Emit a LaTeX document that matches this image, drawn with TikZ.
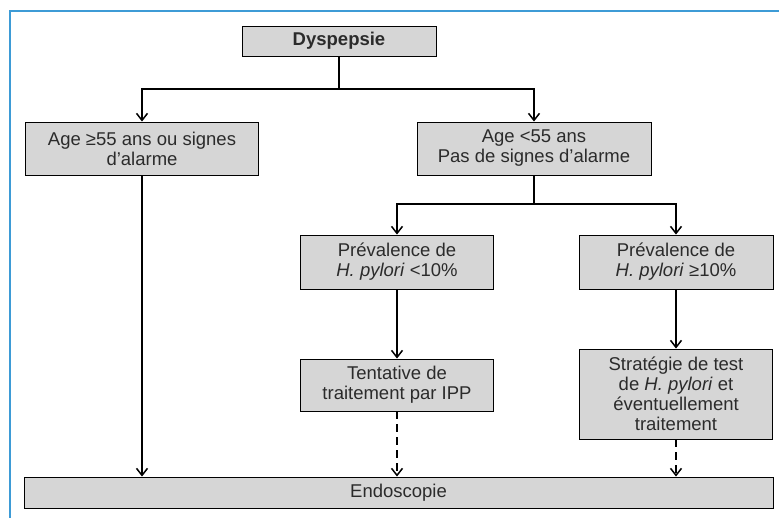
\documentclass[tikz,border=0pt]{standalone}
\usepackage{fontspec}
\setmainfont{Liberation Sans}
\usepackage{xcolor}
\usetikzlibrary{arrows.meta}
\definecolor{boxgray}{HTML}{D6D6D6}
\definecolor{textgray}{HTML}{2B2B2B}
\definecolor{framblue}{HTML}{3D9BD6}
\tikzset{
  flowbox/.style={rectangle,draw=black,line width=.9pt,fill=boxgray,align=center,
    inner sep=2pt,text=textgray,font=\fontsize{18.5}{20}\selectfont},
  flowarrow/.style={-{Straight Barb[length=7pt,width=11pt,line width=1.5pt]},line width=1.7pt},
  dashedarrow/.style={flowarrow,dash pattern=on 8pt off 5pt}
}

\begin{document}
\begin{tikzpicture}[x=1pt,y=1pt]
  \useasboundingbox (0,0) rectangle (779,-518);
  \draw[framblue,line width=1.4pt] (10,-518) -- (10,-11) -- (779,-11);
  \node[flowbox,minimum width=194pt,minimum height=30pt,font=\fontsize{18.5}{20}\selectfont\bfseries] (dys) at (339,-41) {Dyspepsie};
  \node[flowbox,minimum width=233pt,minimum height=53pt] (old) at (142,-148.5) {Age ≥55 ans ou signes\\d’alarme};
  \node[flowbox,minimum width=234pt,minimum height=53pt] (young) at (534,-148.5) {Age <55 ans\\Pas de signes d’alarme};
  \node[flowbox,minimum width=193pt,minimum height=54pt] (low) at (397,-262) {Prévalence de\\\textit{H. pylori} <10\%};
  \node[flowbox,minimum width=194pt,minimum height=54pt] (high) at (676,-262) {Prévalence de\\\textit{H. pylori} ≥10\%};
  \node[flowbox,minimum width=193pt,minimum height=52pt] (ipp) at (397,-385) {Tentative de\\traitement par IPP};
  \node[flowbox,minimum width=193pt,minimum height=90pt] (test) at (676,-394) {Stratégie de test\\de \textit{H. pylori} et\\éventuellement\\traitement};
  \node[flowbox,minimum width=749pt,minimum height=31pt] (endo) at (398.5,-492.5) {Endoscopie};
  \coordinate (fork1) at (339,-89);
  \coordinate (fork2) at (534,-204);
  \draw[line width=1.7pt] (dys.south) -- (fork1);
  \draw[flowarrow] (fork1) -| (old.north);
  \draw[flowarrow] (fork1) -| (young.north);
  \draw[line width=1.7pt] (young.south) -- (fork2);
  \draw[flowarrow] (fork2) -| (low.north);
  \draw[flowarrow] (fork2) -| (high.north);
  \draw[flowarrow] (low.south) -- (ipp.north);
  \draw[flowarrow] (high.south) -- (test.north);
  \draw[flowarrow] (old.south) -- (old.south |- endo.north);
  \draw[dashedarrow] (ipp.south) -- (ipp.south |- endo.north);
  \draw[dashedarrow] (test.south) -- (test.south |- endo.north);
\end{tikzpicture}
\end{document}
